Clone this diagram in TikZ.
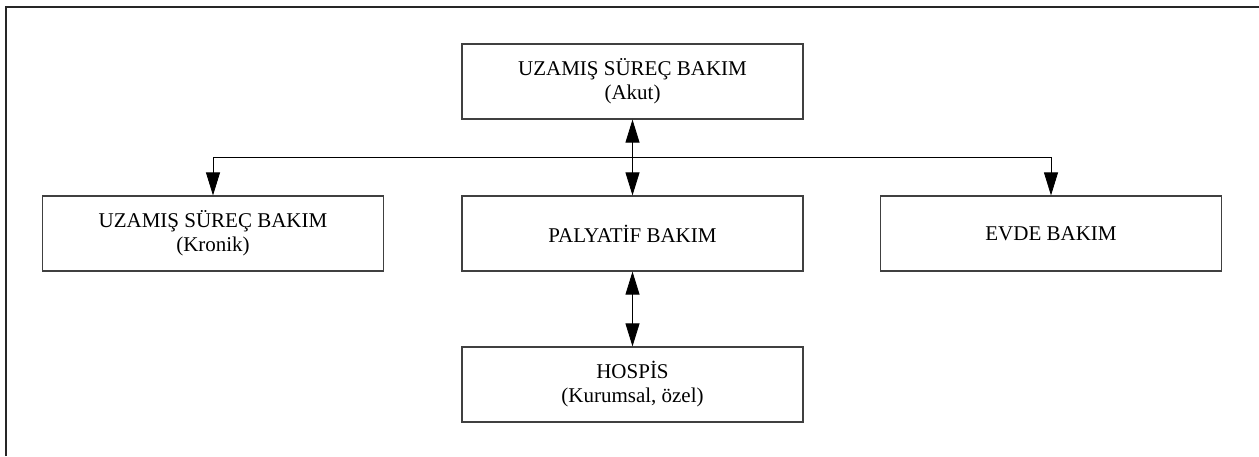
\documentclass[tikz,border=0pt]{standalone}
\usepackage{fontspec}
\setmainfont{Liberation Serif}
\usetikzlibrary{arrows.meta}
\tikzstyle{box}=[draw=black!75,line width=0.6pt,minimum width=170.5pt,minimum height=37.5pt,inner sep=0pt,align=center,font=\fontsize{10.5}{12}\selectfont]

\begin{document}
\begin{tikzpicture}[x=0.5pt,y=-0.5pt,>={Triangle[length=11.5pt,width=7pt]}]
\useasboundingbox (0,0) rectangle (1259,456);
\draw[line width=1pt,black!85] (6,456) -- (6,6.5) -- (1259,6.5);
\node[box] (akut) at (632.5,81.5) {UZAMIŞ SÜREÇ BAKIM\\(Akut)};
\node[box] (kronik) at (213,233.5) {UZAMIŞ SÜREÇ BAKIM\\(Kronik)};
\node[box] (palyatif) at (632.5,233.5) {PALYATİF BAKIM};
\node[box] (evde) at (1051,233.5) {EVDE BAKIM};
\node[box] (hospis) at (632.5,384.5) {HOSPİS\\(Kurumsal, özel)};
\coordinate (bus) at (632.5,157);
\draw[<->] (akut) -- (palyatif);
\draw[->] (bus) -| (kronik);
\draw[->] (bus) -| (evde);
\draw[<->] (palyatif) -- (hospis);
\end{tikzpicture}
\end{document}
